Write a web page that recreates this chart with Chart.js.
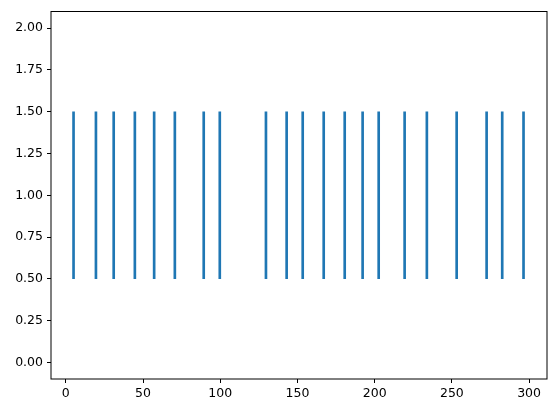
<!DOCTYPE html>
<html>
<head>
<meta charset="utf-8">
<script src="https://cdn.jsdelivr.net/npm/chart.js@4/dist/chart.umd.min.js"></script>
<style>
  html, body { margin: 0; padding: 0; background: #fff; }
  #wrap { width: 556px; height: 413px; }
</style>
</head>
<body>
<div id="wrap"><canvas id="chart"></canvas></div>
<script>
  // event positions (x), each drawn as a vertical line from lineStart to lineEnd
  const eventPositions = [5, 19.5, 31, 44.7, 57.2, 70.6, 89.3, 99.7, 129.6, 143, 153.4,
                          167, 180.6, 192.2, 202.6, 219.4, 233.8, 253.1, 272.5, 282.6, 296.4];
  const lineStart = 0.5;
  const lineEnd = 1.5;
  const xTicks = [0, 50, 100, 150, 200, 250, 300];
  const yTicks = [0, 0.25, 0.5, 0.75, 1, 1.25, 1.5, 1.75, 2];

  const tickFont = { family: "'DejaVu Sans', sans-serif", size: 12.5 };

  // full black frame around the plot area
  const frame = {
    id: "frame",
    afterDraw(chart) {
      const { ctx, chartArea: a } = chart;
      ctx.save();
      ctx.strokeStyle = "#000";
      ctx.lineWidth = 1;
      ctx.strokeRect(a.left, a.top, a.right - a.left, a.bottom - a.top);
      ctx.restore();
    },
  };

  new Chart(document.getElementById("chart"), {
    type: "bar",
    data: {
      datasets: [
        {
          data: eventPositions.map((x) => ({ x: x, y: [lineStart, lineEnd] })),
          backgroundColor: "#1f77b4",
          borderWidth: 0,
          barThickness: 2,
        },
      ],
    },
    options: {
      responsive: true,
      maintainAspectRatio: false,
      animation: false,
      layout: { padding: { top: 10, right: 9, left: 0, bottom: 0 } },
      plugins: { legend: { display: false }, tooltip: { enabled: false } },
      scales: {
        x: {
          type: "linear",
          offset: false,
          min: -9.6,
          max: 311.6,
          afterFit: (s) => { s.height = 34; },
          afterBuildTicks: (s) => { s.ticks = xTicks.map((v) => ({ value: v })); },
          grid: { display: true, offset: false, drawOnChartArea: false, color: "#000", tickLength: 4 },
          border: { display: false },
          ticks: { color: "#000", font: tickFont, padding: 3, maxRotation: 0 },
        },
        y: {
          type: "linear",
          min: -0.1,
          max: 2.1,
          afterFit: (s) => { s.width = 51; },
          afterBuildTicks: (s) => { s.ticks = yTicks.map((v) => ({ value: v })); },
          grid: { display: true, drawOnChartArea: false, color: "#000", tickLength: 4 },
          border: { display: false },
          ticks: {
            color: "#000",
            font: tickFont,
            padding: 4,
            callback: (v) => Number(v).toFixed(2),
          },
        },
      },
    },
    plugins: [frame],
  });
</script>
</body>
</html>
